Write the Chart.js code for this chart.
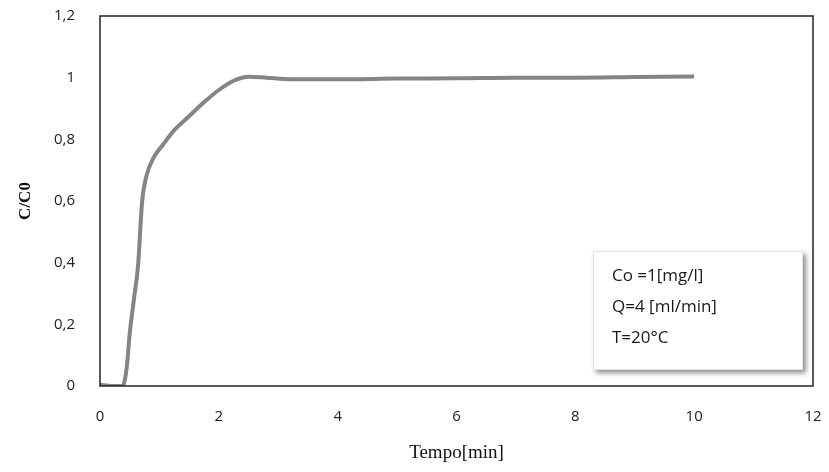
<!DOCTYPE html>
<html>
<head>
<meta charset="utf-8">
<script src="https://cdn.jsdelivr.net/npm/chart.js@4.4.0/dist/chart.umd.min.js"></script>
<style>
  html, body { margin: 0; padding: 0; background: #fff; }
  #wrap { width: 829px; height: 472px; position: relative; }
</style>
</head>
<body>
<div id="wrap"><canvas id="chart"></canvas></div>
<script>
// breakthrough curve C/C0 vs time
const times  = [0, 0.2, 0.38, 0.45, 0.5, 0.57, 0.64, 0.71, 0.78, 0.9, 1.05, 1.25, 1.5, 1.75, 2.0, 2.25, 2.5, 2.8, 3.2, 4, 5, 6, 7, 8, 9, 10];
const ratios = [0.004, 0.0, 0.0, 0.06, 0.17, 0.28, 0.39, 0.6, 0.68, 0.74, 0.78, 0.83, 0.875, 0.92, 0.96, 0.99, 1.003, 1.0, 0.995, 0.995, 0.997, 0.998, 1.0, 1.0, 1.002, 1.004];
const xTicks = [0, 2, 4, 6, 8, 10, 12];
const yTicks = [0, 0.2, 0.4, 0.6, 0.8, 1, 1.2];
const infoLines = ['Co =1[mg/l]', 'Q=4 [ml/min]', 'T=20\u00B0C'];

const tickFont = { family: '"Open Sans", sans-serif', size: 15 };

// black frame around the plot area
const frame = {
    id: 'frame',
    afterDatasetsDraw(chart) {
        const a = chart.chartArea, ctx = chart.ctx;
        ctx.save();
        ctx.strokeStyle = '#222';
        ctx.lineWidth = 1.5;
        ctx.strokeRect(a.left, a.top, a.right - a.left, a.bottom - a.top);
        ctx.restore();
    }
};

// text box with conditions (bottom right)
const infoBox = {
    id: 'infoBox',
    afterDraw(chart) {
        const ctx = chart.ctx;
        const x = 593, y = 251, w = 210, h = 119;
        ctx.save();
        ctx.shadowColor = 'rgba(0,0,0,0.45)';
        ctx.shadowBlur = 5;
        ctx.shadowOffsetX = 3;
        ctx.shadowOffsetY = 3;
        ctx.fillStyle = '#fff';
        ctx.fillRect(x, y, w, h);
        ctx.shadowColor = 'transparent';
        ctx.strokeStyle = '#e4e4e4';
        ctx.lineWidth = 1;
        ctx.strokeRect(x + 0.5, y + 0.5, w - 1, h - 1);
        ctx.fillStyle = '#1a1a1a';
        ctx.font = '17px "Open Sans", sans-serif';
        ctx.textBaseline = 'middle';
        infoLines.forEach((t, i) => ctx.fillText(t, x + 19, y + 25 + i * 31));
        ctx.restore();
    }
};

new Chart(document.getElementById('chart'), {
    type: 'line',
    data: {
        datasets: [{
            data: times.map((t, i) => ({ x: t, y: ratios[i] })),
            borderColor: '#858585',
            borderWidth: 4,
            pointRadius: 0,
            cubicInterpolationMode: 'monotone',
            fill: false
        }]
    },
    options: {
        responsive: true,
        maintainAspectRatio: false,
        animation: false,
        layout: { padding: { top: 16, right: 16, left: 0, bottom: 0 } },
        plugins: { legend: { display: false }, tooltip: { enabled: false } },
        scales: {
            x: {
                type: 'linear',
                min: 0, max: 12,
                afterBuildTicks: s => { s.ticks = xTicks.map(v => ({ value: v })); },
                afterFit: s => { s.height = 86; },
                grid: { display: false, drawTicks: true, tickLength: 22 },
                border: { display: false },
                ticks: { color: '#222', font: tickFont, padding: 0 },
                title: {
                    display: true,
                    text: 'Tempo[min]',
                    color: '#111',
                    font: { family: '"Liberation Serif", "DejaVu Serif", serif', size: 19 },
                    padding: { top: 0, bottom: 8 }
                }
            },
            y: {
                min: 0, max: 1.2,
                afterBuildTicks: s => { s.ticks = yTicks.map(v => ({ value: v })); },
                afterFit: s => { s.width = 100; },
                grid: { display: false, drawTicks: true, tickLength: 25 },
                border: { display: false },
                ticks: {
                    color: '#222', font: tickFont, padding: 0,
                    callback: v => String(Math.round(v * 10) / 10).replace('.', ',')
                },
                title: {
                    display: true,
                    text: 'C/C0',
                    color: '#111',
                    font: { family: '"Liberation Serif", "DejaVu Serif", serif', size: 17, weight: 'bold' },
                    padding: { top: 15, bottom: 0 }
                }
            }
        }
    },
    plugins: [frame, infoBox]
});
</script>
</body>
</html>
